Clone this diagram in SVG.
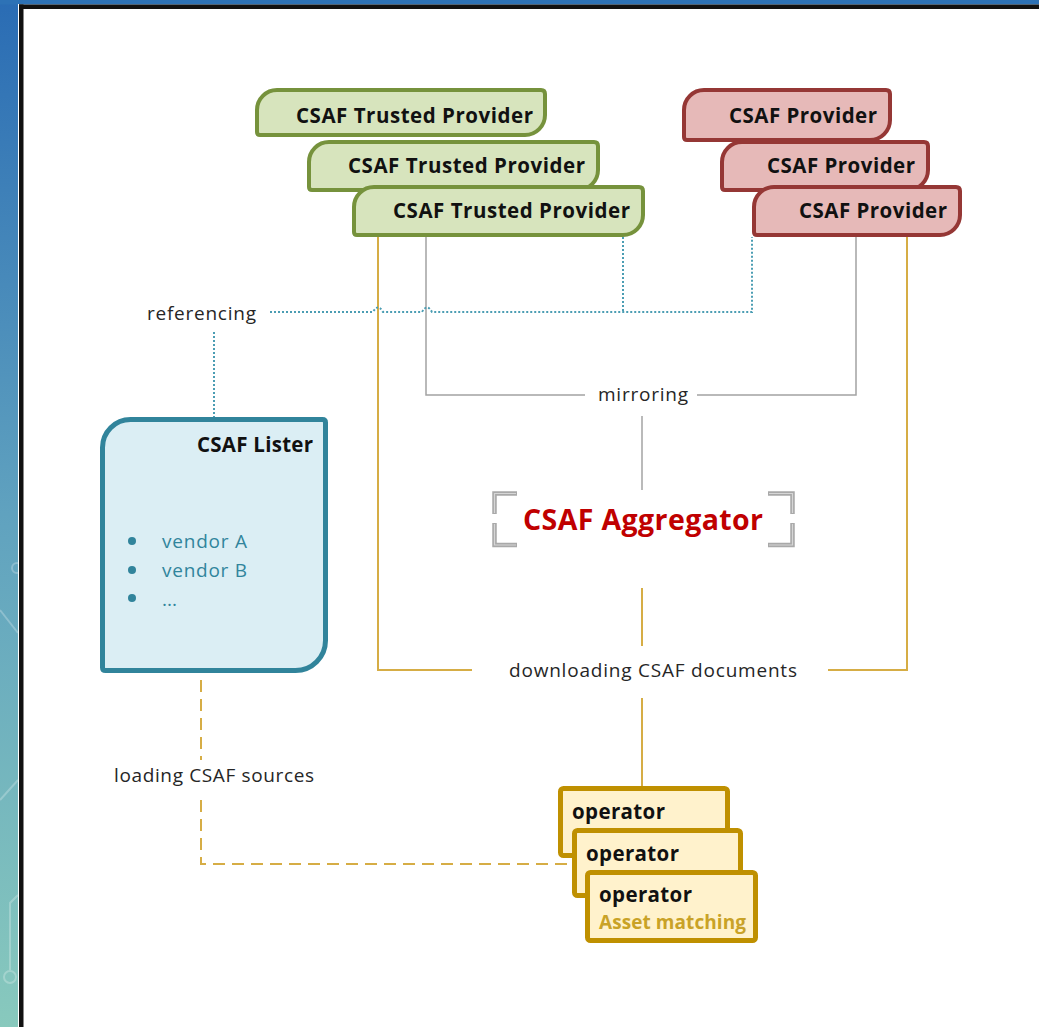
<svg xmlns="http://www.w3.org/2000/svg" width="1039" height="1027" viewBox="0 0 1039 1027">
<defs>
<linearGradient id="strip" x1="0" y1="0" x2="0" y2="1">
<stop offset="0" stop-color="#2a6cb4"/>
<stop offset="0.5" stop-color="#60a2bf"/>
<stop offset="1" stop-color="#88c9bd"/>
</linearGradient>
<style>
.lbl{font-family:"Open Sans","Liberation Sans",sans-serif;font-size:19px;fill:#262626}
.ttl{font-family:"Open Sans","Liberation Sans",sans-serif;font-size:20.5px;font-weight:bold;fill:#111}
.tp{fill:#d7e4bd;stroke:#76923c;stroke-width:4}
.pv{fill:#e6b9b8;stroke:#953735;stroke-width:4}
.op{fill:#fff2cc;stroke:#bf9000;stroke-width:5}
.gold{fill:none;stroke:#d6ad45;stroke-width:2}
.gray{fill:none;stroke:#a3a3a3;stroke-width:1.5}
.dot{fill:none;stroke:#4b9db3;stroke-width:2;stroke-dasharray:2 2}
.dash{fill:none;stroke:#d6ad45;stroke-width:2;stroke-dasharray:12 7}
.vend{font-family:"Open Sans","Liberation Sans",sans-serif;font-size:19px;fill:#31859c}
</style>
</defs>
<rect x="0" y="0" width="1039" height="1027" fill="#ffffff"/>
<rect x="0" y="0" width="19" height="1027" fill="url(#strip)"/>
<rect x="0" y="0" width="1039" height="4.5" fill="#2d72b6"/>
<g stroke="#ffffff" stroke-opacity="0.25" stroke-width="2" fill="none">
<circle cx="17" cy="568" r="5"/>
<path d="M0 610 L18 633"/>
<path d="M0 800 L18 780"/>
<path d="M18 895 L10 903 V970"/>
<circle cx="10" cy="977" r="6"/>
</g>
<rect x="18" y="4" width="1" height="1023" fill="#ffffff"/>
<rect x="19" y="4.5" width="4.5" height="1023" fill="#111"/>
<rect x="19" y="4.5" width="1020" height="4.5" fill="#111"/>

<g id="connectors">
<path class="gold" d="M378 237 V670 H472"/>
<path class="gold" d="M907 237 V670 H828"/>
<path class="gold" d="M642 588 V646"/>
<path class="gold" d="M642 698 V786"/>
<path class="gray" d="M426 237 V395 H585"/>
<path class="gray" d="M856 237 V395 H697"/>
<path class="gray" d="M642 416 V490"/>
<path class="dot" d="M270 312 H373 Q378 303 383 312 H422 Q427 303 432 312 H752 V237"/>
<path class="dot" d="M623 237 V312"/>
<path class="dot" d="M214 332 V417"/>
<path class="dash" d="M201 680 V760"/>
<path class="dash" d="M201 800 V864 H572"/>
</g>

<g id="trusted-provider-1">
<path class="tp" d="M257 110 A20 20 0 0 1 277 90 H541 Q545 90 545 94 V115 A20 20 0 0 1 525 135 H260 Q257 135 257 132 Z"/>
<text class="ttl" x="533" y="123" text-anchor="end" textLength="237">CSAF Trusted Provider</text>
</g>
<g id="trusted-provider-2">
<path class="tp" d="M309 162 A20 20 0 0 1 329 142 H594 Q598 142 598 146 V170 A20 20 0 0 1 578 190 H312 Q309 190 309 187 Z"/>
<text class="ttl" x="585" y="173" text-anchor="end" textLength="237">CSAF Trusted Provider</text>
</g>
<g id="trusted-provider-3">
<path class="tp" d="M354 207 A20 20 0 0 1 374 187 H639 Q643 187 643 191 V215 A20 20 0 0 1 623 235 H357 Q354 235 354 232 Z"/>
<text class="ttl" x="630" y="218" text-anchor="end" textLength="237">CSAF Trusted Provider</text>
</g>

<g id="provider-1">
<path class="pv" d="M684 110 A20 20 0 0 1 704 90 H886 Q890 90 890 94 V120 A20 20 0 0 1 870 140 H687 Q684 140 684 137 Z"/>
<text class="ttl" x="877" y="123" text-anchor="end" textLength="148">CSAF Provider</text>
</g>
<g id="provider-2">
<path class="pv" d="M722 162 A20 20 0 0 1 742 142 H924 Q928 142 928 146 V170 A20 20 0 0 1 908 190 H725 Q722 190 722 187 Z"/>
<text class="ttl" x="915" y="173" text-anchor="end" textLength="148">CSAF Provider</text>
</g>
<g id="provider-3">
<path class="pv" d="M754 207 A20 20 0 0 1 774 187 H956 Q960 187 960 191 V215 A20 20 0 0 1 940 235 H757 Q754 235 754 232 Z"/>
<text class="ttl" x="947" y="218" text-anchor="end" textLength="148">CSAF Provider</text>
</g>

<g id="label-referencing">
<text class="lbl" x="147" y="320" textLength="109">referencing</text>
</g>
<g id="label-mirroring">
<text class="lbl" x="598" y="401" textLength="90">mirroring</text>
</g>
<g id="label-downloading">
<text class="lbl" x="509" y="677" textLength="288">downloading CSAF documents</text>
</g>
<g id="label-loading">
<text class="lbl" x="114" y="782" textLength="200">loading CSAF sources</text>
</g>

<g id="csaf-lister">
<path d="M102.5 447.5 A28 28 0 0 1 130.5 419.5 H322.5 Q325.5 419.5 325.5 422.5 V640.5 A30 30 0 0 1 295.5 670.5 H105.5 Q102.5 670.5 102.5 667.5 Z" fill="#dbeef4" stroke="#31849b" stroke-width="5"/>
<text class="ttl" x="313" y="452" text-anchor="end" textLength="116">CSAF Lister</text>
<circle cx="132" cy="541" r="4" fill="#31849b"/>
<circle cx="132" cy="570" r="4" fill="#31849b"/>
<circle cx="132" cy="598" r="4" fill="#31849b"/>
<text class="vend" x="162" y="548" textLength="85">vendor A</text>
<text class="vend" x="162" y="577" textLength="85">vendor B</text>
<text class="vend" x="162" y="606">...</text>
</g>

<g id="csaf-aggregator">
<g fill="none" stroke="#a9a9a9" stroke-width="4.5">
<path d="M517 493.5 H494.5 V514"/>
<path d="M494.5 523 V545 H517"/>
<path d="M768 493.5 H792.5 V514"/>
<path d="M792.5 523 V545 H768"/>
</g>
<g fill="none" stroke="#d6d6d6" stroke-width="1.2">
<path d="M516 493.5 H494.5 V513"/>
<path d="M494.5 524 V545 H516"/>
<path d="M769 493.5 H792.5 V513"/>
<path d="M792.5 524 V545 H769"/>
</g>
<text x="523" y="530" font-family="'Open Sans','Liberation Sans',sans-serif" font-size="28.5" font-weight="bold" fill="#c00000" textLength="240">CSAF Aggregator</text>
</g>

<g id="operator-1">
<rect class="op" x="560.5" y="788.5" width="167" height="67" rx="3"/>
<text class="ttl" x="572" y="819" textLength="93">operator</text>
</g>
<g id="operator-2">
<rect class="op" x="574.5" y="830.5" width="166" height="65" rx="3"/>
<text class="ttl" x="586" y="861" textLength="93">operator</text>
</g>
<g id="operator-3">
<rect class="op" x="587.5" y="872.5" width="168" height="68" rx="3"/>
<text class="ttl" x="599" y="902" textLength="93">operator</text>
<text x="599" y="929" font-family="'Open Sans','Liberation Sans',sans-serif" font-size="19" font-weight="bold" fill="#c9a227" textLength="147">Asset matching</text>
</g>
</svg>
